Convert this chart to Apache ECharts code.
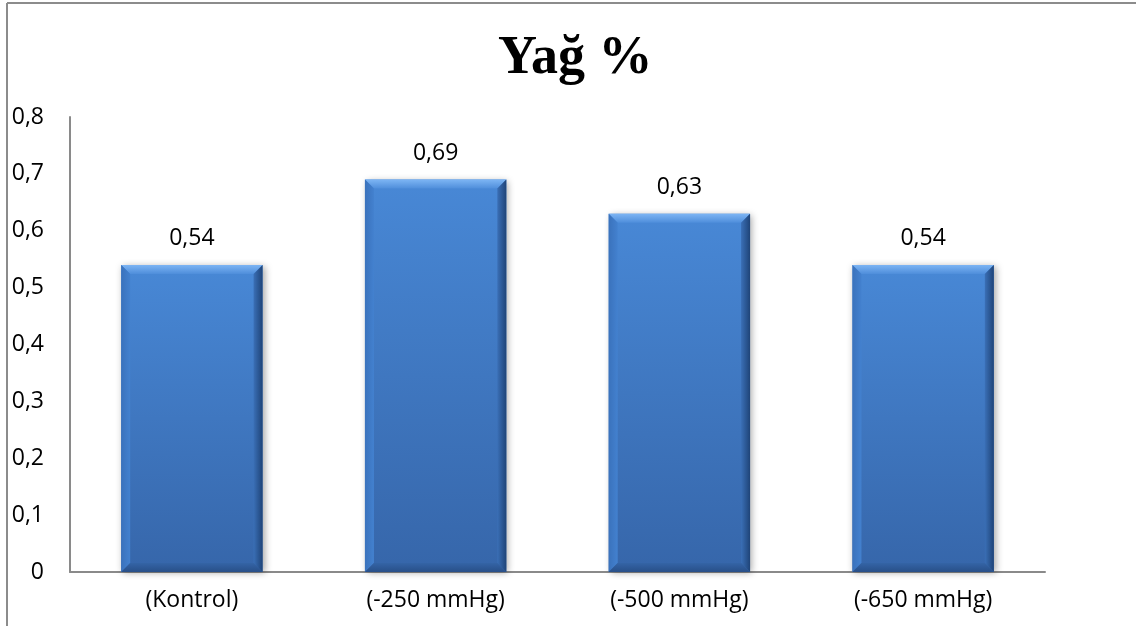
<!DOCTYPE html>
<html>
<head>
<meta charset="utf-8">
<title>Yağ %</title>
<script src="https://cdn.jsdelivr.net/npm/echarts@6/dist/echarts.min.js"></script>
<style>
  html, body { margin: 0; padding: 0; background: #ffffff; overflow: hidden; }
  #chart { width: 1136px; height: 626px; }
</style>
</head>
<body>
<div id="chart"></div>
<script>
// Fat content (%) by vacuum level
const categories = ['(Kontrol)', '(-250 mmHg)', '(-500 mmHg)', '(-650 mmHg)'];
const fatValues = [0.54, 0.69, 0.63, 0.54];
const yTicks = [0, 0.1, 0.2, 0.3, 0.4, 0.5, 0.6, 0.7, 0.8];

const fmt = v => String(Math.round(v * 100) / 100).replace('.', ',');
const LABEL_FONT = '"Open Sans", "Noto Sans", sans-serif';

const chart = echarts.init(document.getElementById('chart'), null, { renderer: 'canvas' });

// Bevelled bar: body with vertical gradient plus four edge facets
function renderBevelBar(params, api) {
  const idx = api.value(0);
  const v = api.value(1);
  const top = api.coord([idx, v]);
  const base = api.coord([idx, 0]);
  const bw = api.size([1, 0])[0] * 0.58;
  const x0 = top[0] - bw / 2, x1 = top[0] + bw / 2;
  const y0 = top[1], y1 = base[1];
  const d = 9;
  const lin = (a, b, c, e, stops) => new echarts.graphic.LinearGradient(a, b, c, e, stops);
  return {
    type: 'group',
    children: [
      {
        type: 'rect',
        shape: { x: x0, y: y0, width: bw, height: y1 - y0 },
        style: {
          fill: lin(0, 0, 0, 1, [
            { offset: 0, color: '#4888d6' },
            { offset: 1, color: '#3666aa' }
          ]),
          shadowBlur: 7, shadowOffsetX: 2, shadowOffsetY: 1,
          shadowColor: 'rgba(0,0,0,0.35)'
        }
      },
      {
        type: 'polygon',
        shape: { points: [[x0, y0], [x1, y0], [x1 - d, y0 + d], [x0 + d, y0 + d]] },
        style: {
          fill: lin(0, 0, 0, 1, [
            { offset: 0, color: '#7db5f4' },
            { offset: 1, color: '#4f8edb' }
          ])
        }
      },
      {
        type: 'polygon',
        shape: { points: [[x0, y0], [x0 + d, y0 + d], [x0 + d, y1 - d], [x0, y1]] },
        style: {
          fill: lin(0, 0, 1, 0, [
            { offset: 0, color: '#3a72bc' },
            { offset: 1, color: '#4381cf' }
          ])
        }
      },
      {
        type: 'polygon',
        shape: { points: [[x1, y0], [x1, y1], [x1 - d, y1 - d], [x1 - d, y0 + d]] },
        style: {
          fill: lin(0, 0, 1, 0, [
            { offset: 0, color: '#3a6fb6' },
            { offset: 1, color: '#1f4478' }
          ])
        }
      },
      {
        type: 'polygon',
        shape: { points: [[x0, y1], [x0 + d, y1 - d], [x1 - d, y1 - d], [x1, y1]] },
        style: {
          fill: lin(0, 0, 0, 1, [
            { offset: 0, color: '#3464a6' },
            { offset: 1, color: '#284f88' }
          ])
        }
      },
      {
        type: 'text',
        style: {
          text: fmt(v),
          x: top[0], y: y0 - 26,
          align: 'center', verticalAlign: 'middle',
          font: '23px ' + LABEL_FONT,
          fill: '#000000'
        }
      }
    ]
  };
}

chart.setOption({
  animation: false,
  backgroundColor: '#ffffff',
  title: {
    text: 'Yağ %',
    left: 493,
    top: 27,
    textStyle: {
      fontFamily: '"Liberation Serif", "Times New Roman", serif',
      fontWeight: 'bold',
      fontSize: 54,
      color: '#000000'
    }
  },
  graphic: [
    {
      type: 'line',
      shape: { x1: 7, y1: 3, x2: 1136, y2: 3 },
      style: { stroke: '#8c8c8c', lineWidth: 2 },
      silent: true
    },
    {
      type: 'line',
      shape: { x1: 7, y1: 3, x2: 7, y2: 626 },
      style: { stroke: '#8c8c8c', lineWidth: 2 },
      silent: true
    }
  ],
  grid: { left: 70, right: 91, top: 117, bottom: 54, containLabel: false },
  xAxis: {
    type: 'category',
    data: categories,
    axisLine: { show: true, lineStyle: { color: '#8a8a8a', width: 2 } },
    axisTick: { show: false },
    axisLabel: {
      margin: 17,
      fontFamily: LABEL_FONT,
      fontSize: 23,
      color: '#000000'
    }
  },
  yAxis: {
    type: 'value',
    min: yTicks[0],
    max: yTicks[yTicks.length - 1],
    interval: 0.1,
    axisLine: { show: true, lineStyle: { color: '#8a8a8a', width: 2 } },
    axisTick: { show: false },
    splitLine: { show: false },
    axisLabel: {
      margin: 26,
      fontFamily: LABEL_FONT,
      fontSize: 23,
      color: '#000000',
      formatter: v => fmt(v)
    }
  },
  series: [
    {
      type: 'custom',
      renderItem: renderBevelBar,
      data: fatValues.map((v, i) => [i, v]),
      encode: { x: 0, y: 1 },
      z: 2
    }
  ]
});
</script>
</body>
</html>
